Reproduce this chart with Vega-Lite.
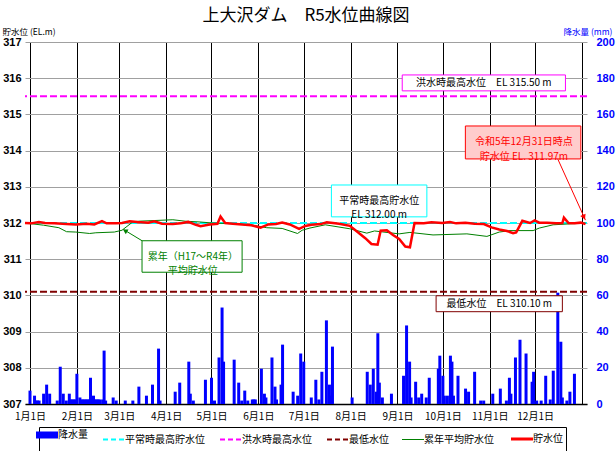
{
"$schema": "https://vega.github.io/schema/vega-lite/v6.json",
"width": 562, "height": 362,
"autosize": {"type": "none"},
"padding": {"left": 25, "top": 42, "right": 29, "bottom": 47},
"background": "white",
"title": {"text": "上大沢ダム　R5水位曲線図", "font": "Noto Sans CJK JP", "fontSize": 17, "fontWeight": "normal", "color": "#000000", "anchor": "middle", "offset": 2},
"config": {"view": {"stroke": null}, "font": "Noto Sans CJK JP"},
"resolve": {"scale": {"x": "independent", "y": "independent"}},
"layer": [
{
"data": {"values": [{"series": "平常時最高貯水位", "level": 312.0}, {"series": "洪水時最高水位", "level": 315.5}, {"series": "最低水位", "level": 310.1}]},
"mark": {"type": "rule", "strokeWidth": 2, "strokeDash": [7, 3]},
"encoding": {
"y": {"field": "level", "type": "quantitative", "scale": {"domain": [307, 317], "nice": false},
 "axis": {"orient": "left", "values": [307, 308, 309, 310, 311, 312, 313, 314, 315, 316, 317], "format": "d", "title": "貯水位 (EL.m)", "titleAngle": 0, "titleAlign": "left", "titleBaseline": "middle", "titleX": -23, "titleY": -11, "titleFont": "Noto Sans CJK JP", "titleFontSize": 8.5, "titleFontWeight": "normal", "titleColor": "#000000", "labelFont": "Liberation Sans", "labelFontWeight": "bold", "labelFontSize": 11, "labelColor": "#000000", "labelPadding": 4, "ticks": false, "domain": false, "grid": true, "gridColor": "#A0A0A0", "gridWidth": 1}},
"stroke": {"field": "series", "type": "nominal", "scale": {"domain": ["平常時最高貯水位", "洪水時最高水位", "最低水位"], "range": ["#00FFFF", "#FF00FF", "#800000"]}, "legend": null}
}
},
{
"data": {"values": [
{"date":"2023-01-01","rain":7.4},{"date":"2023-01-04","rain":4.6},{"date":"2023-01-05","rain":1.9},{"date":"2023-01-06","rain":1.9},{"date":"2023-01-07","rain":1.9},{"date":"2023-01-10","rain":5.7},{"date":"2023-01-12","rain":10.7},{"date":"2023-01-14","rain":5.7},{"date":"2023-01-19","rain":1.9},{"date":"2023-01-21","rain":20.6},{"date":"2023-01-23","rain":5.7},{"date":"2023-01-25","rain":1.9},{"date":"2023-01-27","rain":5.7},{"date":"2023-01-28","rain":2.5},{"date":"2023-01-29","rain":2.5},{"date":"2023-01-30","rain":2.5},{"date":"2023-01-31","rain":2.5},
{"date":"2023-02-01","rain":16.7},{"date":"2023-02-03","rain":3.6},{"date":"2023-02-04","rain":2.5},{"date":"2023-02-05","rain":2.5},{"date":"2023-02-06","rain":2.5},{"date":"2023-02-07","rain":2.5},{"date":"2023-02-08","rain":2.5},{"date":"2023-02-09","rain":2.5},{"date":"2023-02-10","rain":14.5},{"date":"2023-02-12","rain":4.6},{"date":"2023-02-13","rain":2.5},{"date":"2023-02-14","rain":2.5},{"date":"2023-02-15","rain":2.5},{"date":"2023-02-16","rain":2.5},{"date":"2023-02-18","rain":2.5},{"date":"2023-02-19","rain":29.5},{"date":"2023-02-20","rain":1.9},{"date":"2023-02-25","rain":3.6},{"date":"2023-02-27","rain":1.9},
{"date":"2023-03-05","rain":1.9},{"date":"2023-03-10","rain":1.9},{"date":"2023-03-14","rain":9.6},{"date":"2023-03-19","rain":4.6},{"date":"2023-03-23","rain":10.7},{"date":"2023-03-27","rain":30.6},{"date":"2023-03-28","rain":1.9},
{"date":"2023-04-07","rain":6.8},{"date":"2023-04-10","rain":11.8},{"date":"2023-04-16","rain":23.4},{"date":"2023-04-17","rain":5.7},{"date":"2023-04-19","rain":1.9},{"date":"2023-04-27","rain":13.4},
{"date":"2023-05-01","rain":14.5},{"date":"2023-05-03","rain":1.9},{"date":"2023-05-06","rain":25.7},{"date":"2023-05-08","rain":53.3},{"date":"2023-05-09","rain":23.4},{"date":"2023-05-16","rain":24.5},{"date":"2023-05-19","rain":11.8},{"date":"2023-05-21","rain":1.9},{"date":"2023-05-23","rain":7.4},{"date":"2023-05-25","rain":1.9},{"date":"2023-05-28","rain":2.5},{"date":"2023-05-29","rain":2.5},{"date":"2023-05-30","rain":2.5},
{"date":"2023-06-03","rain":19.5},{"date":"2023-06-05","rain":5.7},{"date":"2023-06-06","rain":3.6},{"date":"2023-06-10","rain":25.7},{"date":"2023-06-12","rain":9.6},{"date":"2023-06-13","rain":2.5},{"date":"2023-06-16","rain":10.7},{"date":"2023-06-17","rain":32.8},{"date":"2023-06-24","rain":6.8},{"date":"2023-06-27","rain":4.6},{"date":"2023-06-29","rain":27.9},
{"date":"2023-07-01","rain":23.4},{"date":"2023-07-06","rain":3.6},{"date":"2023-07-09","rain":13.4},{"date":"2023-07-11","rain":2.5},{"date":"2023-07-13","rain":17.8},{"date":"2023-07-16","rain":46.2},{"date":"2023-07-18","rain":10.7},{"date":"2023-07-19","rain":4.6},{"date":"2023-07-20","rain":31.7},
{"date":"2023-08-02","rain":3.6},{"date":"2023-08-12","rain":17.8},{"date":"2023-08-14","rain":10.7},{"date":"2023-08-16","rain":19.5},{"date":"2023-08-18","rain":6.8},{"date":"2023-08-19","rain":39.1},{"date":"2023-08-20","rain":11.8},{"date":"2023-08-22","rain":3.6},{"date":"2023-08-28","rain":5.7},
{"date":"2023-09-05","rain":15.6},{"date":"2023-09-07","rain":43.4},{"date":"2023-09-09","rain":23.4},{"date":"2023-09-10","rain":3.6},{"date":"2023-09-13","rain":12.3},{"date":"2023-09-15","rain":3.6},{"date":"2023-09-17","rain":5.7},{"date":"2023-09-20","rain":3.6},{"date":"2023-09-22","rain":14.5},{"date":"2023-09-28","rain":19.5},{"date":"2023-09-29","rain":26.7},
{"date":"2023-10-01","rain":15.6},{"date":"2023-10-02","rain":4.6},{"date":"2023-10-04","rain":4.6},{"date":"2023-10-06","rain":26.7},{"date":"2023-10-07","rain":23.4},{"date":"2023-10-08","rain":4.6},{"date":"2023-10-11","rain":15.6},{"date":"2023-10-16","rain":8.5},{"date":"2023-10-18","rain":6.8},{"date":"2023-10-22","rain":17.8},{"date":"2023-10-26","rain":1.9},{"date":"2023-10-28","rain":1.9},
{"date":"2023-11-03","rain":5.7},{"date":"2023-11-08","rain":8.5},{"date":"2023-11-12","rain":1.9},{"date":"2023-11-14","rain":14.5},{"date":"2023-11-15","rain":5.7},{"date":"2023-11-18","rain":25.7},{"date":"2023-11-21","rain":35.5},{"date":"2023-11-25","rain":27.9},{"date":"2023-11-29","rain":12.3},{"date":"2023-11-30","rain":17.8},
{"date":"2023-12-02","rain":1.9},{"date":"2023-12-05","rain":1.9},{"date":"2023-12-08","rain":15.6},{"date":"2023-12-11","rain":2.5},{"date":"2023-12-13","rain":18.4},{"date":"2023-12-16","rain":61.5},{"date":"2023-12-18","rain":34.4},{"date":"2023-12-19","rain":3.6},{"date":"2023-12-22","rain":1.9},{"date":"2023-12-24","rain":6.8},{"date":"2023-12-27","rain":16.7}
], "format": {"parse": {"date": "date:'%Y-%m-%d'"}}},
"mark": {"type": "bar", "size": 3},
"encoding": {
"x": {"field": "date", "type": "temporal", "title": null,
 "scale": {"domain": [{"year": 2023, "month": 1, "date": 1}, {"year": 2024, "month": 1, "date": 1}]},
 "axis": {"tickCount": {"interval": "month", "step": 1}, "labelExpr": "year(datum.value) > 2023 ? '' : timeFormat(datum.value, '%-m月%-d日')", "grid": true, "gridColor": "#000000", "gridWidth": 1, "ticks": false, "domain": true, "domainColor": "#000000", "domainWidth": 1.5, "labelFont": "Noto Sans CJK JP", "labelFontSize": 10, "labelColor": "#000000", "labelPadding": 7, "labelFlush": false, "labelOverlap": false, "labelBound": false}},
"y": {"field": "rain", "type": "quantitative", "scale": {"domain": [0, 200], "nice": false},
 "axis": {"orient": "right", "values": [0, 20, 40, 60, 80, 100, 120, 140, 160, 180, 200], "title": "降水量 (mm)", "titleAngle": 0, "titleAlign": "right", "titleBaseline": "middle", "titleX": 25, "titleY": -11, "titleFont": "Noto Sans CJK JP", "titleFontSize": 8.5, "titleFontWeight": "normal", "titleColor": "#0000FF", "labelColor": "#0000FF", "labelFont": "Liberation Sans", "labelFontWeight": "bold", "labelFontSize": 11, "labelPadding": 9, "ticks": false, "domain": false, "grid": false}},
"color": {"datum": "降水量",
 "scale": {"domain": ["降水量", "平常時最高貯水位", "洪水時最高水位", "最低水位", "累年平均貯水位", "貯水位"], "range": ["#0000FF", "#00FFFF", "#FF00FF", "#800000", "#008000", "#FF0000"]},
 "legend": {"title": null, "orient": "none", "legendX": 14, "legendY": 385, "direction": "horizontal", "columns": 6, "symbolType": "stroke", "symbolSize": 484, "symbolStrokeWidth": 2, "labelFont": "Noto Sans CJK JP", "labelFontSize": 10, "labelColor": "#000000", "labelOffset": 6, "columnPadding": 11, "padding": 3, "strokeColor": "#000000", "fillColor": "#FFFFFF", "labelLimit": 200,
  "encode": {
   "legend": {"update": {"stroke": {"value": "#000000"}, "strokeWidth": {"value": 1}, "fill": {"value": "#FFFFFF"}}},
   "symbols": {"update": {"stroke": {"scale": "color", "field": "value"}, "strokeWidth": {"signal": "datum.value === '降水量' ? 7 : (datum.value === '貯水位' ? 3 : (datum.value === '累年平均貯水位' ? 1 : 2))"}, "strokeDash": {"signal": "(datum.value === '平常時最高貯水位' || datum.value === '洪水時最高水位' || datum.value === '最低水位') ? [5, 3] : [1, 0]"}}}}}}
}
},
{
"data": {"values": [
{"date":"2023-01-01","level":312.00},{"date":"2023-01-13","level":311.94},{"date":"2023-01-23","level":311.87},{"date":"2023-01-28","level":311.76},{"date":"2023-02-03","level":311.75},{"date":"2023-02-12","level":311.71},{"date":"2023-02-16","level":311.73},{"date":"2023-02-28","level":311.75},{"date":"2023-03-05","level":311.80},{"date":"2023-03-12","level":312.03},{"date":"2023-03-16","level":312.05},{"date":"2023-04-07","level":312.09},{"date":"2023-04-15","level":312.05},{"date":"2023-04-24","level":312.03},{"date":"2023-05-03","level":312.00},{"date":"2023-05-16","level":311.98},{"date":"2023-05-29","level":311.94},{"date":"2023-06-07","level":311.87},{"date":"2023-06-17","level":311.85},{"date":"2023-06-27","level":311.71},{"date":"2023-06-30","level":311.80},{"date":"2023-07-05","level":311.86},{"date":"2023-07-15","level":311.95},{"date":"2023-07-31","level":311.84},{"date":"2023-08-11","level":311.72},{"date":"2023-08-16","level":311.78},{"date":"2023-09-01","level":311.70},{"date":"2023-09-08","level":311.74},{"date":"2023-09-23","level":311.67},{"date":"2023-10-15","level":311.70},{"date":"2023-10-28","level":311.63},{"date":"2023-11-05","level":311.75},{"date":"2023-11-12","level":311.79},{"date":"2023-11-27","level":311.79},{"date":"2023-12-01","level":311.86},{"date":"2023-12-10","level":311.95},{"date":"2023-12-31","level":312.00}
], "format": {"parse": {"date": "date:'%Y-%m-%d'"}}},
"mark": {"type": "line", "strokeWidth": 1, "color": "#008000"},
"encoding": {
"x": {"field": "date", "type": "temporal", "scale": {"domain": [{"year": 2023, "month": 1, "date": 1}, {"year": 2024, "month": 1, "date": 1}]}, "axis": null},
"y": {"field": "level", "type": "quantitative", "scale": {"domain": [307, 317], "nice": false}, "axis": null}
}
},
{
"data": {"values": [
{"date":"2023-01-01","level":312.00},{"date":"2023-01-05","level":311.99},{"date":"2023-01-10","level":312.03},{"date":"2023-01-14","level":312.00},{"date":"2023-01-20","level":311.99},{"date":"2023-01-28","level":311.97},{"date":"2023-02-03","level":311.96},{"date":"2023-02-10","level":311.98},{"date":"2023-02-15","level":311.96},{"date":"2023-02-20","level":312.05},{"date":"2023-02-23","level":311.99},{"date":"2023-03-01","level":311.99},{"date":"2023-03-05","level":312.00},{"date":"2023-03-10","level":312.05},{"date":"2023-03-15","level":312.03},{"date":"2023-03-22","level":312.01},{"date":"2023-03-26","level":312.05},{"date":"2023-03-31","level":311.98},{"date":"2023-04-07","level":311.97},{"date":"2023-04-12","level":311.99},{"date":"2023-04-17","level":312.03},{"date":"2023-04-22","level":311.95},{"date":"2023-04-25","level":311.91},{"date":"2023-05-01","level":311.96},{"date":"2023-05-06","level":311.98},{"date":"2023-05-08","level":312.18},{"date":"2023-05-11","level":312.00},{"date":"2023-05-16","level":311.98},{"date":"2023-05-22","level":311.96},{"date":"2023-05-28","level":311.94},{"date":"2023-06-03","level":311.87},{"date":"2023-06-08","level":311.96},{"date":"2023-06-13","level":311.97},{"date":"2023-06-17","level":312.01},{"date":"2023-06-22","level":311.96},{"date":"2023-06-28","level":311.84},{"date":"2023-07-02","level":311.92},{"date":"2023-07-06","level":311.95},{"date":"2023-07-12","level":311.97},{"date":"2023-07-16","level":312.02},{"date":"2023-07-20","level":312.00},{"date":"2023-07-24","level":311.98},{"date":"2023-07-31","level":311.92},{"date":"2023-08-05","level":311.75},{"date":"2023-08-10","level":311.58},{"date":"2023-08-14","level":311.42},{"date":"2023-08-18","level":311.40},{"date":"2023-08-20","level":311.79},{"date":"2023-08-24","level":311.80},{"date":"2023-08-28","level":311.67},{"date":"2023-09-01","level":311.56},{"date":"2023-09-05","level":311.35},{"date":"2023-09-08","level":311.33},{"date":"2023-09-11","level":312.00},{"date":"2023-09-17","level":311.99},{"date":"2023-09-22","level":312.02},{"date":"2023-09-29","level":312.00},{"date":"2023-10-04","level":312.03},{"date":"2023-10-08","level":311.99},{"date":"2023-10-14","level":312.01},{"date":"2023-10-20","level":311.98},{"date":"2023-10-26","level":311.97},{"date":"2023-10-31","level":311.88},{"date":"2023-11-05","level":311.82},{"date":"2023-11-10","level":311.78},{"date":"2023-11-14","level":311.72},{"date":"2023-11-16","level":311.74},{"date":"2023-11-18","level":311.90},{"date":"2023-11-20","level":312.06},{"date":"2023-11-25","level":312.00},{"date":"2023-11-28","level":312.07},{"date":"2023-12-01","level":312.01},{"date":"2023-12-06","level":312.01},{"date":"2023-12-12","level":311.99},{"date":"2023-12-16","level":312.00},{"date":"2023-12-17","level":312.15},{"date":"2023-12-20","level":312.00},{"date":"2023-12-24","level":311.99},{"date":"2023-12-28","level":312.01},{"date":"2023-12-31","level":311.97}
], "format": {"parse": {"date": "date:'%Y-%m-%d'"}}},
"mark": {"type": "line", "strokeWidth": 2.5, "color": "#FF0000"},
"encoding": {
"x": {"field": "date", "type": "temporal", "scale": {"domain": [{"year": 2023, "month": 1, "date": 1}, {"year": 2024, "month": 1, "date": 1}]}, "axis": null},
"y": {"field": "level", "type": "quantitative", "scale": {"domain": [307, 317], "nice": false}, "axis": null}
}
},
{
"data": {"values": [{}]},
"mark": {"type": "rect", "fill": "#FFFFFF", "stroke": "#FF00FF", "strokeWidth": 1},
"encoding": {
"x": {"datum": {"year": 2023, "month": 9, "date": 3}, "type": "temporal", "scale": {"domain": [{"year": 2023, "month": 1, "date": 1}, {"year": 2024, "month": 1, "date": 1}]}, "axis": null},
"x2": {"datum": {"year": 2023, "month": 12, "date": 18}},
"y": {"datum": 316.09, "type": "quantitative", "scale": {"domain": [307, 317], "nice": false}, "axis": null},
"y2": {"datum": 315.65}
}
},
{
"data": {"values": [{}]},
"mark": {"type": "text", "text": "洪水時最高水位　EL 315.50 m", "font": "Noto Sans CJK JP", "fontSize": 10, "color": "#000000"},
"encoding": {
"x": {"datum": {"year": 2023, "month": 10, "date": 26}, "type": "temporal", "scale": {"domain": [{"year": 2023, "month": 1, "date": 1}, {"year": 2024, "month": 1, "date": 1}]}, "axis": null},
"y": {"datum": 315.87, "type": "quantitative", "scale": {"domain": [307, 317], "nice": false}, "axis": null}
}
},
{
"data": {"values": [{}]},
"mark": {"type": "rect", "fill": "#FFFFFF", "stroke": "#00FFFF", "strokeWidth": 1},
"encoding": {
"x": {"datum": {"year": 2023, "month": 7, "date": 19}, "type": "temporal", "scale": {"domain": [{"year": 2023, "month": 1, "date": 1}, {"year": 2024, "month": 1, "date": 1}]}, "axis": null},
"x2": {"datum": {"year": 2023, "month": 9, "date": 19}},
"y": {"datum": 313.05, "type": "quantitative", "scale": {"domain": [307, 317], "nice": false}, "axis": null},
"y2": {"datum": 312.17}
}
},
{
"data": {"values": [{}]},
"mark": {"type": "text", "text": ["平常時最高貯水位", "EL 312.00 m"], "lineHeight": 14, "font": "Noto Sans CJK JP", "fontSize": 10, "color": "#000000"},
"encoding": {
"x": {"datum": {"year": 2023, "month": 8, "date": 19}, "type": "temporal", "scale": {"domain": [{"year": 2023, "month": 1, "date": 1}, {"year": 2024, "month": 1, "date": 1}]}, "axis": null},
"y": {"datum": 312.61, "type": "quantitative", "scale": {"domain": [307, 317], "nice": false}, "axis": null}
}
},
{
"data": {"values": [{}]},
"mark": {"type": "rect", "fill": "#FFCCCC", "stroke": "#FF0000", "strokeWidth": 1},
"encoding": {
"x": {"datum": {"year": 2023, "month": 10, "date": 14}, "type": "temporal", "scale": {"domain": [{"year": 2023, "month": 1, "date": 1}, {"year": 2024, "month": 1, "date": 1}]}, "axis": null},
"x2": {"datum": {"year": 2023, "month": 12, "date": 28}},
"y": {"datum": 314.68, "type": "quantitative", "scale": {"domain": [307, 317], "nice": false}, "axis": null},
"y2": {"datum": 313.77}
}
},
{
"data": {"values": [{}]},
"mark": {"type": "text", "text": ["令和5年12月31日時点", "貯水位 EL. 311.97m"], "lineHeight": 14.5, "font": "Noto Sans CJK JP", "fontSize": 10, "color": "#FF0000"},
"encoding": {
"x": {"datum": {"year": 2023, "month": 11, "date": 21}, "type": "temporal", "scale": {"domain": [{"year": 2023, "month": 1, "date": 1}, {"year": 2024, "month": 1, "date": 1}]}, "axis": null},
"y": {"datum": 314.225, "type": "quantitative", "scale": {"domain": [307, 317], "nice": false}, "axis": null}
}
},
{
"data": {"values": [{}]},
"mark": {"type": "rule", "stroke": "#FF0000", "strokeWidth": 1},
"encoding": {
"x": {"datum": {"year": 2023, "month": 12, "date": 13}, "type": "temporal", "scale": {"domain": [{"year": 2023, "month": 1, "date": 1}, {"year": 2024, "month": 1, "date": 1}]}, "axis": null},
"x2": {"datum": {"year": 2023, "month": 12, "date": 31}},
"y": {"datum": 313.77, "type": "quantitative", "scale": {"domain": [307, 317], "nice": false}, "axis": null},
"y2": {"datum": 312.08}
}
},
{
"data": {"values": [{}]},
"mark": {"type": "point", "shape": "triangle-down", "angle": 336, "size": 35, "filled": true, "color": "#FF0000", "opacity": 1},
"encoding": {
"x": {"datum": {"year": 2023, "month": 12, "date": 30}, "type": "temporal", "scale": {"domain": [{"year": 2023, "month": 1, "date": 1}, {"year": 2024, "month": 1, "date": 1}]}, "axis": null},
"y": {"datum": 312.16, "type": "quantitative", "scale": {"domain": [307, 317], "nice": false}, "axis": null}
}
},
{
"data": {"values": [{}]},
"mark": {"type": "rect", "fill": "#FFFFFF", "stroke": "#008000", "strokeWidth": 1},
"encoding": {
"x": {"datum": {"year": 2023, "month": 3, "date": 18}, "type": "temporal", "scale": {"domain": [{"year": 2023, "month": 1, "date": 1}, {"year": 2024, "month": 1, "date": 1}]}, "axis": null},
"x2": {"datum": {"year": 2023, "month": 5, "date": 22}},
"y": {"datum": 311.51, "type": "quantitative", "scale": {"domain": [307, 317], "nice": false}, "axis": null},
"y2": {"datum": 310.64}
}
},
{
"data": {"values": [{}]},
"mark": {"type": "text", "text": ["累年（H17～R4年）", "平均貯水位"], "lineHeight": 14, "font": "Noto Sans CJK JP", "fontSize": 10, "color": "#008000"},
"encoding": {
"x": {"datum": {"year": 2023, "month": 4, "date": 20}, "type": "temporal", "scale": {"domain": [{"year": 2023, "month": 1, "date": 1}, {"year": 2024, "month": 1, "date": 1}]}, "axis": null},
"y": {"datum": 311.06, "type": "quantitative", "scale": {"domain": [307, 317], "nice": false}, "axis": null}
}
},
{
"data": {"values": [{}]},
"mark": {"type": "rule", "stroke": "#008000", "strokeWidth": 1},
"encoding": {
"x": {"datum": {"year": 2023, "month": 3, "date": 18}, "type": "temporal", "scale": {"domain": [{"year": 2023, "month": 1, "date": 1}, {"year": 2024, "month": 1, "date": 1}]}, "axis": null},
"x2": {"datum": {"year": 2023, "month": 3, "date": 6}},
"y": {"datum": 311.51, "type": "quantitative", "scale": {"domain": [307, 317], "nice": false}, "axis": null},
"y2": {"datum": 311.82}
}
},
{
"data": {"values": [{}]},
"mark": {"type": "point", "shape": "triangle-up", "angle": 300, "size": 30, "filled": true, "color": "#008000", "opacity": 1},
"encoding": {
"x": {"datum": {"year": 2023, "month": 3, "date": 7}, "type": "temporal", "scale": {"domain": [{"year": 2023, "month": 1, "date": 1}, {"year": 2024, "month": 1, "date": 1}]}, "axis": null},
"y": {"datum": 311.79, "type": "quantitative", "scale": {"domain": [307, 317], "nice": false}, "axis": null}
}
},
{
"data": {"values": [{}]},
"mark": {"type": "rect", "fill": "#FFFFFF", "stroke": "#800000", "strokeWidth": 1},
"encoding": {
"x": {"datum": {"year": 2023, "month": 9, "date": 25}, "type": "temporal", "scale": {"domain": [{"year": 2023, "month": 1, "date": 1}, {"year": 2024, "month": 1, "date": 1}]}, "axis": null},
"x2": {"datum": {"year": 2023, "month": 12, "date": 16}},
"y": {"datum": 309.99, "type": "quantitative", "scale": {"domain": [307, 317], "nice": false}, "axis": null},
"y2": {"datum": 309.55}
}
},
{
"data": {"values": [{}]},
"mark": {"type": "text", "text": "最低水位　EL 310.10 m", "font": "Noto Sans CJK JP", "fontSize": 10, "color": "#000000"},
"encoding": {
"x": {"datum": {"year": 2023, "month": 11, "date": 5}, "type": "temporal", "scale": {"domain": [{"year": 2023, "month": 1, "date": 1}, {"year": 2024, "month": 1, "date": 1}]}, "axis": null},
"y": {"datum": 309.76, "type": "quantitative", "scale": {"domain": [307, 317], "nice": false}, "axis": null}
}
}
]
}
